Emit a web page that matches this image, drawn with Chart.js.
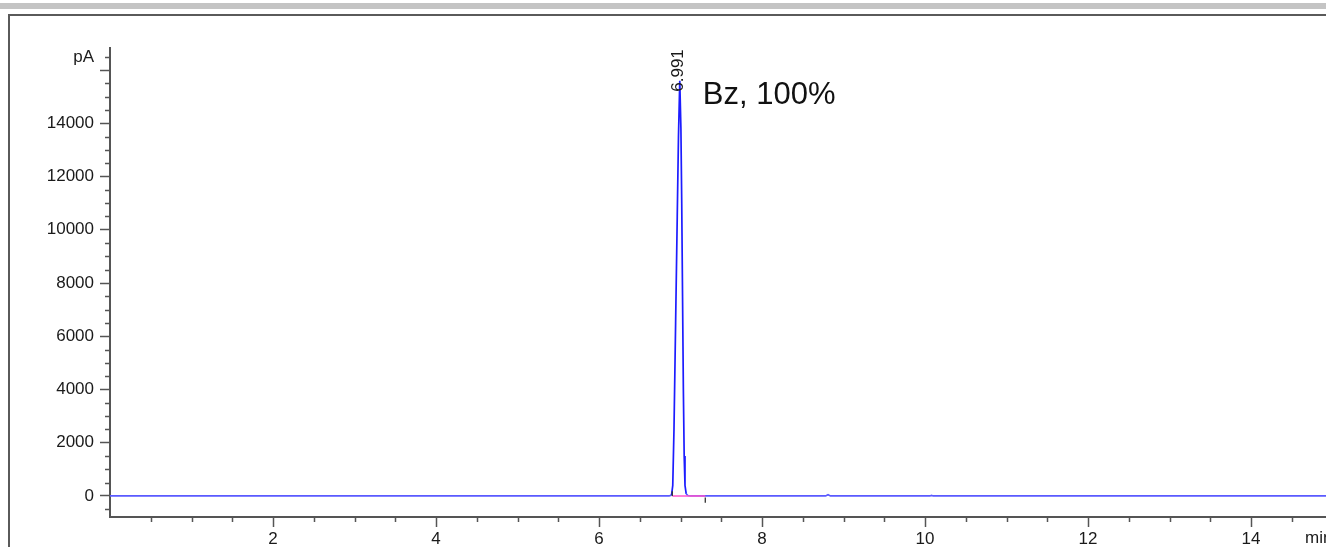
<!DOCTYPE html>
<html>
<head>
<meta charset="utf-8">
<script src="https://cdn.jsdelivr.net/npm/chart.js@4.4.0/dist/chart.umd.min.js"></script>
<style>
  html, body { margin: 0; padding: 0; background: #fff; overflow: hidden; }
  .band { position: absolute; left: 0; right: 0; top: 3px; height: 6px; background: #c4c4c4; }
  .frame { position: absolute; left: 8px; top: 14px; width: 2000px; height: 1000px;
           border-left: 2px solid #5a5a5a; border-top: 2px solid #5a5a5a; }
  .wrap { position: absolute; left: 0; top: 0; width: 1326px; height: 547px; }
</style>
</head>
<body>
<div class="band"></div>
<div class="frame"></div>
<div class="wrap"><canvas id="fidChart"></canvas></div>
<script>
// FID trace, retention time (min) vs signal (pA)
const times  = [0, 6.86, 6.89, 6.905, 6.92, 6.94, 6.96, 6.975, 6.991, 7.005, 7.015, 7.025, 7.035, 7.045, 7.055, 7.07, 7.09, 7.12, 8.78, 8.81, 8.84, 10.06, 10.08, 10.10, 14.92];
const signal = [0, 0, 30, 400, 2500, 6500, 10500, 13500, 15600, 13800, 11000, 7500, 4000, 1500, 400, 80, 15, 0, 0, 45, 0, 0, 20, 0, 0];

// integrated peak
const peakTimes   = [6.991];
const peakHeights = [15600];
const intStart = 6.899;
const intEnd   = 7.304;
const sampleName = 'Bz, 100%';

// axis ticks
const xTicks = [2, 4, 6, 8, 10, 12, 14];
const yTicks = [0, 2000, 4000, 6000, 8000, 10000, 12000, 14000, 16000];
const xMinorStep = 0.5;
const yMinorStep = 500;
const xUnit = 'min';
const yUnit = 'pA';

const FONT = '"Liberation Sans", Arial, sans-serif';
const AXIS = '#555';
const TEXT = '#1a1a1a';

const trace = times.map((t, i) => ({ x: t, y: signal[i] }));

const annotate = {
  id: 'annotate',
  afterDraw(chart) {
    const { ctx, chartArea, scales: { x, y } } = chart;
    ctx.save();
    // short minor ticks between the labelled ones
    ctx.strokeStyle = AXIS;
    ctx.lineWidth = 1.5;
    ctx.beginPath();
    for (let v = xMinorStep; v < x.max; v += xMinorStep) {
      if (xTicks.some(t => Math.abs(t - v) < 1e-6)) continue;
      const px = Math.round(x.getPixelForValue(v)) + 0.5;
      ctx.moveTo(px, chartArea.bottom);
      ctx.lineTo(px, chartArea.bottom + 5);
    }
    for (let v = Math.ceil(y.min / yMinorStep) * yMinorStep; v < y.max; v += yMinorStep) {
      if (yTicks.includes(v)) continue;
      const py = Math.round(y.getPixelForValue(v)) + 0.5;
      ctx.moveTo(chartArea.left - 5, py);
      ctx.lineTo(chartArea.left, py);
    }
    ctx.stroke();

    // retention time labels
    ctx.fillStyle = TEXT;
    peakTimes.forEach((t, i) => {
      const px = x.getPixelForValue(t);
      const py = y.getPixelForValue(peakHeights[i]);
      ctx.save();
      ctx.translate(px - 1, py + 11);
      ctx.rotate(-Math.PI / 2);
      ctx.font = '17px ' + FONT;
      ctx.textAlign = 'left';
      ctx.textBaseline = 'middle';
      ctx.fillText(t.toFixed(3), 0, 0);
      ctx.restore();
    });

    // sample name next to the main peak
    ctx.font = '31px ' + FONT;
    ctx.textAlign = 'left';
    ctx.textBaseline = 'alphabetic';
    ctx.fillStyle = '#111';
    ctx.fillText(sampleName, x.getPixelForValue(peakTimes[0]) + 23, chartArea.top + 56);

    // axis units
    ctx.font = '17px ' + FONT;
    ctx.fillStyle = TEXT;
    ctx.textAlign = 'right';
    ctx.textBaseline = 'middle';
    ctx.fillText(yUnit, chartArea.left - 16, chartArea.top + 9);
    ctx.textAlign = 'left';
    ctx.textBaseline = 'top';
    ctx.fillText(xUnit, 1305, chartArea.bottom + 13);
    ctx.restore();
  }
};

new Chart(document.getElementById('fidChart'), {
  type: 'line',
  data: {
    datasets: [
      {
        // start / end marks of the integration
        data: [{ x: intStart, y: 0 }, { x: intStart, y: 180 }],
        borderColor: '#333', borderWidth: 1.3, pointRadius: 0
      },
      {
        data: [{ x: intEnd, y: -60 }, { x: intEnd, y: -250 }],
        borderColor: '#333', borderWidth: 1.3, pointRadius: 0
      },
      {
        // integration baseline
        data: [{ x: intStart, y: 0 }, { x: intEnd, y: 0 }],
        borderColor: '#ff55cc', borderWidth: 1.6, pointRadius: 0
      },
      {
        data: trace,
        borderWidth: 1.7, pointRadius: 0, tension: 0,
        borderColor: '#5a5aff',
        segment: {
          borderColor: c => (c.p0.parsed.y > 200 || c.p1.parsed.y > 200) ? '#1c1cff' : '#5a5aff'
        }
      }
    ]
  },
  options: {
    responsive: true,
    maintainAspectRatio: false,
    animation: false,
    layout: { padding: { top: 48, left: 0, right: 0, bottom: 0 } },
    plugins: { legend: { display: false }, tooltip: { enabled: false } },
    scales: {
      x: {
        type: 'linear',
        min: 0,
        max: 14.92,
        grid: { drawOnChartArea: false, drawTicks: true, tickLength: 10, tickWidth: 1.5, tickColor: AXIS },
        border: { display: true, color: AXIS, width: 2 },
        ticks: {
          autoSkip: false, maxRotation: 0, padding: 2,
          color: TEXT, font: { family: FONT, size: 17 }
        },
        afterBuildTicks: s => { s.ticks = xTicks.map(v => ({ value: v })); },
        afterFit: s => { s.height = 30; s.paddingLeft = 0; s.paddingRight = 0; }
      },
      y: {
        min: -790,
        max: 16830,
        grid: { drawOnChartArea: false, drawTicks: true, tickLength: 10, tickWidth: 1.5, tickColor: AXIS },
        border: { display: true, color: AXIS, width: 2 },
        ticks: {
          autoSkip: false, padding: 6,
          color: TEXT, font: { family: FONT, size: 17 },
          callback: v => v === 16000 ? '' : String(v)
        },
        afterBuildTicks: s => { s.ticks = yTicks.map(v => ({ value: v })); },
        afterFit: s => { s.width = 110; s.paddingTop = 0; s.paddingBottom = 0; }
      }
    }
  },
  plugins: [annotate]
});
</script>
</body>
</html>
